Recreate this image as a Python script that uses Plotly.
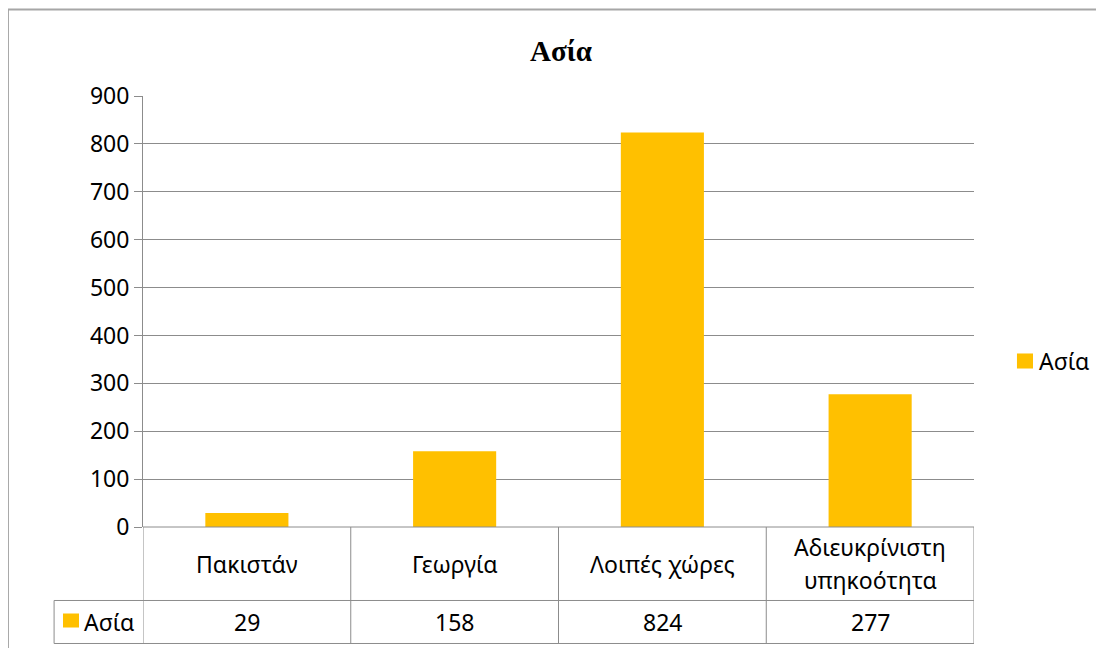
import plotly.graph_objects as go

# data
categories = ["Πακιστάν", "Γεωργία", "Λοιπές χώρες", "Αδιευκρίνιστη<br>υπηκοότητα"]
values = [29, 158, 824, 277]
series_name = "Ασία"
chart_title = "Ασία"

bar_color = "#FFC000"
grid_color = "#8C8C8C"
font_main = "Noto Sans, Open Sans, sans-serif"
fsize = 23

fig = go.Figure()
fig.add_trace(go.Bar(x=categories, y=values, name=series_name,
                     marker=dict(color=bar_color, line=dict(width=0)),
                     width=0.4, showlegend=False))

# data table rows, in paper coords (plot area is 831 x 431 px)
row1 = -0.1705
row2 = -0.2703
shapes = []
for i in range(len(categories) + 1):
    shapes.append(dict(type="line", xref="x", yref="paper", x0=i - 0.5, x1=i - 0.5,
                       y0=0, y1=row2, line=dict(color=grid_color, width=1)))
# horizontal table lines
shapes.append(dict(type="line", xref="x", yref="paper", x0=-0.5, x1=3.5, y0=0, y1=0,
                   line=dict(color=grid_color, width=1)))
shapes.append(dict(type="line", xref="paper", yref="paper", x0=-0.107, x1=1, y0=row1, y1=row1,
                   line=dict(color=grid_color, width=1)))
shapes.append(dict(type="line", xref="paper", yref="paper", x0=-0.107, x1=1, y0=row2, y1=row2,
                   line=dict(color=grid_color, width=1)))
shapes.append(dict(type="line", xref="paper", yref="paper", x0=-0.107, x1=-0.107, y0=row1, y1=row2,
                   line=dict(color=grid_color, width=1)))
# legend key in the table
shapes.append(dict(type="rect", xref="paper", yref="paper", x0=-0.0963, x1=-0.0770,
                   y0=-0.2007, y1=-0.2332, fillcolor=bar_color, line=dict(width=0)))
# legend key on the right
shapes.append(dict(type="rect", xref="paper", yref="paper", x0=1.0517, x1=1.0710,
                   y0=0.4026, y1=0.3677, fillcolor=bar_color, line=dict(width=0)))
# chart border (right and bottom edges run off the page)
shapes.append(dict(type="rect", xref="paper", yref="paper", x0=-0.1625, x1=1.2,
                   y0=1.2007, y1=-0.4, line=dict(color="#A6A6A6", width=2),
                   fillcolor="rgba(0,0,0,0)", layer="below"))

annotations = []
for c, v in zip(categories, values):
    # Excel spaces wrapped lines wider than plotly does, so one annotation per line
    lines = c.split("<br>")
    n = len(lines)
    for k, line in enumerate(lines):
        annotations.append(dict(x=c, y=(0 + row1) / 2, xref="x", yref="paper", text=line,
                                yanchor="middle", showarrow=False,
                                yshift=((n - 1) / 2 - k) * 33,
                                font=dict(size=fsize, color="black", family=font_main)))
    annotations.append(dict(x=c, y=(row1 + row2) / 2, xref="x", yref="paper", text=str(v),
                            yanchor="middle", showarrow=False,
                            font=dict(size=fsize, color="black", family=font_main)))
annotations.append(dict(x=-0.073, y=-0.2193, xref="paper", yref="paper", text=series_name,
                        xanchor="left", yanchor="middle", showarrow=False,
                        font=dict(size=fsize, color="black", family=font_main)))
annotations.append(dict(x=1.076, y=0.384, xref="paper", yref="paper", text=series_name,
                        xanchor="left", yanchor="middle", showarrow=False,
                        font=dict(size=fsize, color="black", family=font_main)))
annotations.append(dict(x=0.503, y=1.105, xref="paper", yref="paper", text="<b>" + chart_title + "</b>",
                        xanchor="center", yanchor="middle", showarrow=False,
                        font=dict(size=29, color="black", family="Liberation Serif, serif")))

# page body has an 8px margin, so the figure is shifted up/left by 8px
fig.update_layout(
    width=1104, height=648,
    margin=dict(l=135, r=138, t=88, b=129),
    paper_bgcolor="white", plot_bgcolor="white",
    font=dict(family=font_main, size=fsize, color="black"),
    showlegend=False,
    xaxis=dict(showticklabels=False, showgrid=False, ticks="", showline=False, zeroline=False,
               range=[-0.5, 3.5]),
    yaxis=dict(range=[0, 900], dtick=100, showgrid=True, gridcolor=grid_color, gridwidth=1,
               ticks="outside", ticklen=8, tickcolor=grid_color, showline=True, linecolor=grid_color,
               linewidth=1, zeroline=False, automargin=False,
               tickfont=dict(size=fsize, family=font_main)),
    shapes=shapes, annotations=annotations,
)

fig.write_html("out.html")
